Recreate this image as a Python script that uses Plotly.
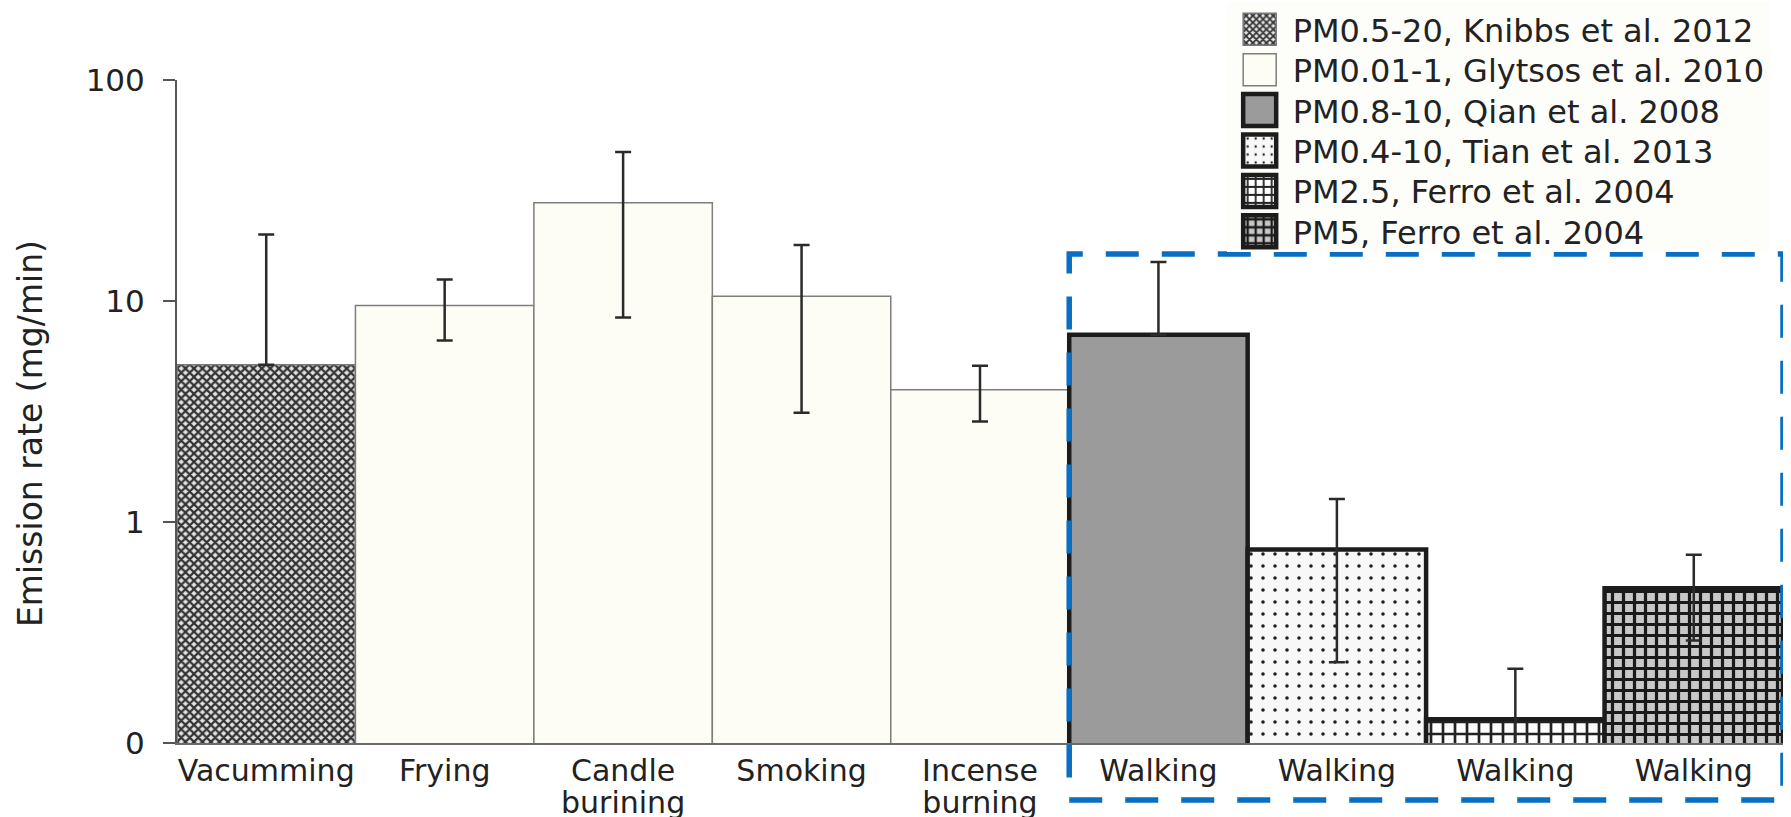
import plotly.graph_objects as go

# Sources / particle-size classes shown in the legend
series_names = [
    "PM0.5-20, Knibbs et al. 2012",
    "PM0.01-1, Glytsos et al. 2010",
    "PM0.8-10, Qian et al. 2008",
    "PM0.4-10, Tian et al. 2013",
    "PM2.5, Ferro et al. 2004",
    "PM5, Ferro et al. 2004",
]

# Activities along the x axis and the source each bar belongs to
categories = ["Vacumming", "Frying", "Candle<br>burining", "Smoking", "Incense<br>burning",
              "Walking", "Walking", "Walking", "Walking"]
bar_series = [0, 1, 1, 1, 1, 2, 3, 4, 5]

# Emission rates (mg/min) and the ends of their error bars
emission_rate = [5.15, 9.55, 27.8, 10.5, 3.97, 7.04, 0.75, 0.128, 0.502]
error_upper = [20.0, 12.5, 47.2, 17.9, 5.1, 15.0, 1.27, 0.217, 0.711]
error_lower = [None, 6.63, 8.43, 3.12, 2.85, None, 0.232, 0.05, 0.291]

y_tick_values = [0.1, 1, 10, 100]
y_tick_labels = ["0", "1", "10", "100"]

TEXT = "#222222"
FONT = "DejaVu Sans"

# Fill / outline style of each source
styles = [
    dict(color="#6e6e6e", line=dict(color="#777777", width=1.5),
         pattern=dict(shape="x", fgcolor="#333333", bgcolor="#e4e4e4", size=6, solidity=0.6, fillmode="replace")),
    dict(color="#fdfdf6", line=dict(color="#7d7d7d", width=1.5), pattern=None),
    dict(color="#9b9b9b", line=dict(color="#1c1c1c", width=4.5), pattern=None),
    dict(color="#f8f8f8", line=dict(color="#1c1c1c", width=4.5),
         pattern=dict(shape=".", fgcolor="#1e1e1e", bgcolor="#f8f8f8", size=12, solidity=0.07, fillmode="replace")),
    dict(color="#ffffff", line=dict(color="#1c1c1c", width=4.5),
         pattern=dict(shape="+", fgcolor="#222222", bgcolor="#ffffff", size=12, solidity=0.4, fillmode="replace")),
    dict(color="#c8c8c8", line=dict(color="#1c1c1c", width=4.5),
         pattern=dict(shape="+", fgcolor="#1a1a1a", bgcolor="#c8c8c8", size=11, solidity=0.5, fillmode="replace")),
]

fig = go.Figure()

for s, name in enumerate(series_names):
    idx = [i for i, b in enumerate(bar_series) if b == s]
    vals = [emission_rate[i] for i in idx]
    plus = [error_upper[i] - emission_rate[i] for i in idx]
    minus = [0 if error_lower[i] is None else emission_rate[i] - error_lower[i] for i in idx]
    st = styles[s]
    marker = dict(color=st["color"], line=st["line"])
    if st["pattern"] is not None:
        marker["pattern"] = st["pattern"]
    fig.add_trace(go.Bar(
        x=idx, y=vals, name=name, width=[1] * len(idx),
        marker=marker,
        error_y=dict(type="data", symmetric=False, array=plus, arrayminus=minus,
                     color="#2a2a2a", thickness=2.5, width=8),
    ))

W, H = 1791, 817
ML, MR, MT, MB = 177, 7.5, 80, 74
plot_w = W - ML - MR
plot_h = H - MT - MB


def px_to_paper_y(py):
    return (H - MB - py) / plot_h


def px_to_paper_x(px):
    return (px - ML) / plot_w


fig.update_layout(
    width=W, height=H,
    margin=dict(l=ML, r=MR, t=MT, b=MB, autoexpand=False),
    paper_bgcolor="white", plot_bgcolor="white",
    barmode="overlay",
    font=dict(family=FONT, color=TEXT, size=30),
    showlegend=True,
    legend=dict(
        x=px_to_paper_x(1227), xanchor="left",
        y=px_to_paper_y(2), yanchor="top",
        bgcolor="#fdfdf9", borderwidth=0,
        itemwidth=56,
        font=dict(family=FONT, size=32, color=TEXT),
        traceorder="normal",
    ),
    xaxis=dict(
        range=[-0.5, 8.5],
        tickmode="array", tickvals=list(range(len(categories))), ticktext=categories,
        showline=True, linecolor="#6a6a6a", linewidth=2,
        ticks="", showgrid=False, zeroline=False,
        tickfont=dict(family=FONT, size=30, color=TEXT),
    ),
    yaxis=dict(
        type="log", range=[-1, 2],
        tickmode="array", tickvals=y_tick_values, ticktext=y_tick_labels,
        showline=True, linecolor="#555555", linewidth=2,
        ticks="outside", ticklen=12, tickwidth=2, tickcolor="#555555",
        ticklabelstandoff=12,
        showgrid=False, zeroline=False,
        tickfont=dict(family=FONT, size=31, color=TEXT),
    ),
)

# Y axis title
fig.add_annotation(
    text="Emission rate (mg/min)", textangle=-90,
    xref="paper", yref="paper",
    x=px_to_paper_x(30), y=px_to_paper_y(434),
    xanchor="center", yanchor="middle", showarrow=False,
    font=dict(family=FONT, size=33, color=TEXT),
)

# Dashed frame around the walking measurements
fig.add_shape(
    type="rect", xref="x", yref="paper",
    x0=4.5, x1=8.5, y0=px_to_paper_y(800), y1=px_to_paper_y(254),
    line=dict(color="#0a6fc2", width=5.5, dash="33px,23px"),
    fillcolor="rgba(0,0,0,0)", layer="above",
)

# Larger legend swatches, tighter legend rows and two-line tick labels
post = """
var gd = document.getElementById('{plot_id}');
var ROW = 40.4, BG_H = 250;
function tweak() {
  gd.querySelectorAll('.legend .legendpoints path').forEach(function (p) {
    var d = p.getAttribute('d') || '';
    if (d.indexOf('M6,6H-6V-6H6Z') === 0) {
      p.setAttribute('d', 'M16.5,16H-16.5V-16H16.5Z');
    }
  });
  var items = gd.querySelectorAll('.legend g.traces');
  if (items.length) {
    var m = /translate\\(([-\\d.e]+)[ ,]+([-\\d.e]+)\\)/.exec(items[0].getAttribute('transform') || '');
    if (m) {
      var x0 = parseFloat(m[1]), y0 = parseFloat(m[2]);
      items.forEach(function (g, i) {
        g.setAttribute('transform', 'translate(' + x0 + ',' + (y0 + i * ROW) + ')');
      });
    }
  }
  var bg = gd.querySelector('.legend rect.bg');
  if (bg) { bg.setAttribute('height', BG_H); }
  gd.querySelectorAll('.xtick text tspan.line').forEach(function (t) {
    if (t.getAttribute('dy') === '1.3em') { t.setAttribute('dy', '1.07em'); }
  });
}
tweak();
setTimeout(tweak, 0);
setTimeout(tweak, 100);
"""

fig.write_html("out.html", post_script=post)
